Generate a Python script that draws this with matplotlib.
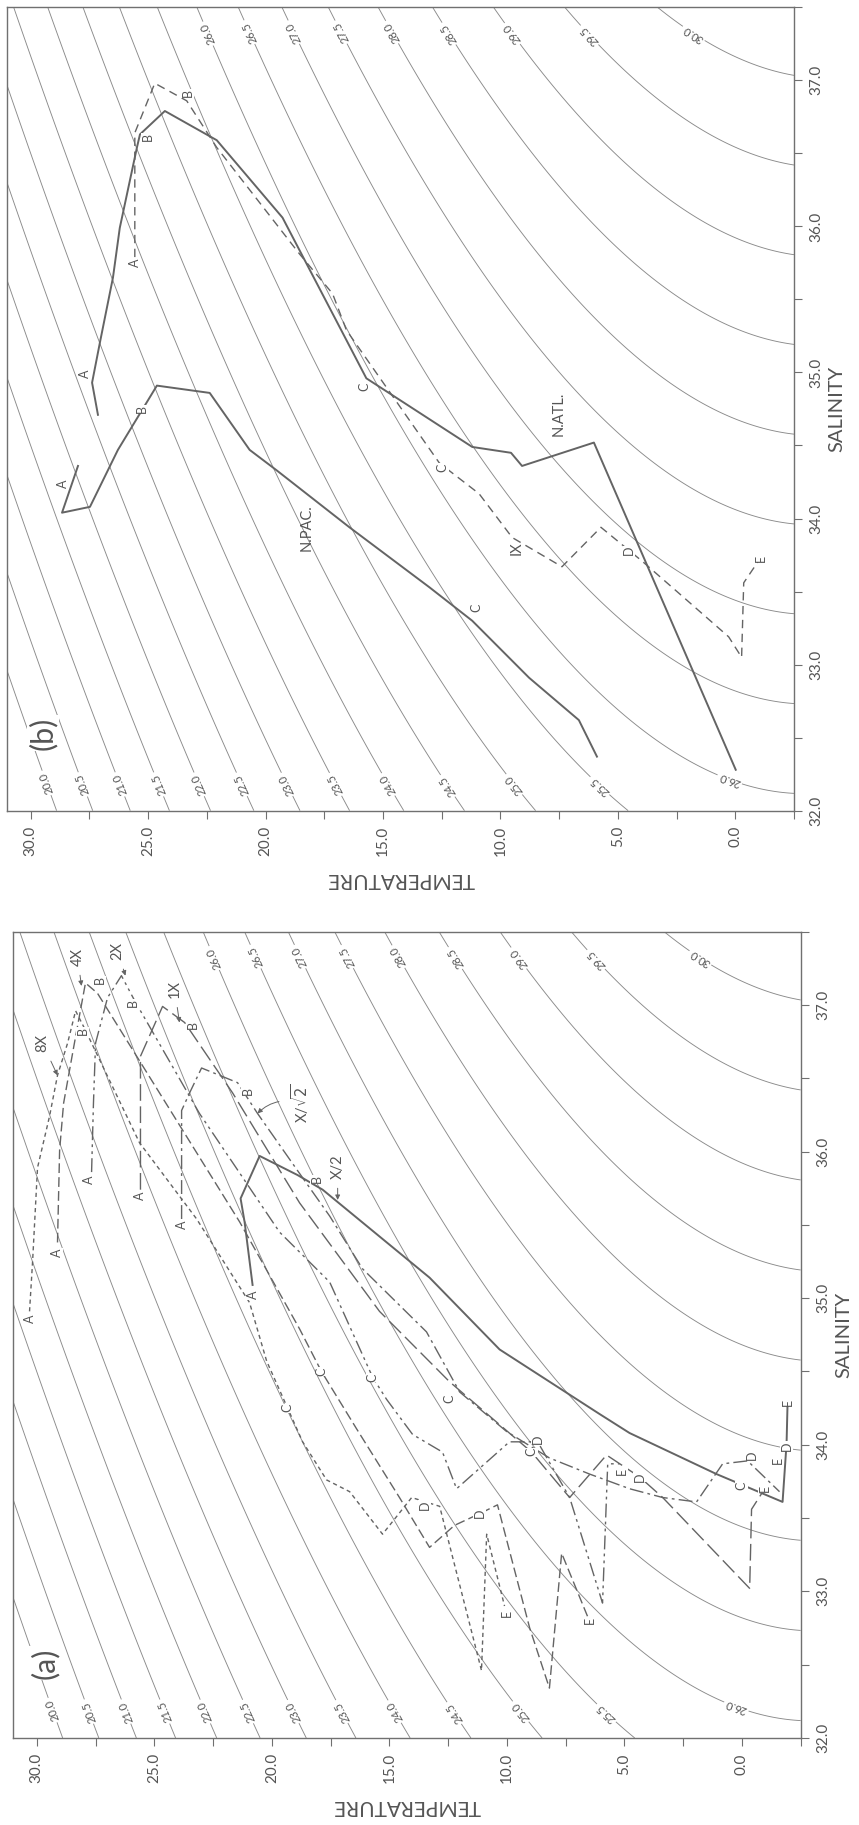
"""Diagramas T-S (a) curvas modelo y (b) N.PAC / N.ATL, figura rotada 90 grados."""
import numpy as np
import matplotlib
matplotlib.use("Agg")
import matplotlib.pyplot as plt
from matplotlib.ticker import MultipleLocator, FormatStrFormatter

plt.rcParams["font.family"] = ["Lato", "DejaVu Sans"]

GRIS = "#646464"
GRIS_CONT = "#8a8a8a"
TXT = "#555555"

# ============================================================
# Datos panel (a): curvas modelo (temperatura, salinidad)
# ============================================================
T_8X = [30.31, 30.18, 29.97, 29.46, 29.12, 28.69, 28.35, 27.97, 25.63, 23.20, 20.95,
        20.22, 19.33, 18.69, 17.67, 16.69, 15.29, 14.05, 12.86, 11.08, 10.86, 10.10]
S_8X = [34.91, 35.25, 35.89, 36.24, 36.52, 36.74, 36.96, 36.84, 36.06, 35.54, 34.97,
        34.57, 34.25, 34.02, 33.76, 33.68, 33.39, 33.64, 33.58, 32.46, 33.39, 32.90]

T_4X = [29.12, 29.03, 28.86, 28.40, 27.93, 27.42, 24.78, 21.37, 18.82, 17.89, 16.40,
        14.57, 13.29, 12.23, 11.16, 10.40, 9.03, 8.19, 7.67, 6.57]
S_4X = [35.38, 36.01, 36.33, 36.74, 37.15, 37.08, 36.40, 35.52, 34.79, 34.50, 34.11,
        33.64, 33.30, 33.45, 33.53, 33.59, 32.75, 32.34, 33.26, 32.83]

T_2X = [27.67, 27.59, 27.50, 26.99, 26.40, 25.84, 23.08, 19.67, 17.54, 15.71, 15.12,
        14.01, 12.74, 12.14, 9.89, 8.69, 7.33, 5.93, 5.71, 5.20]
S_2X = [35.86, 36.33, 36.74, 37.05, 37.20, 37.03, 36.26, 35.45, 35.11, 34.46, 34.31,
        34.07, 33.95, 33.70, 34.02, 34.02, 33.64, 32.92, 33.87, 33.87]

T_1X = [25.59, 25.59, 24.65, 23.71, 21.67, 18.82, 15.42, 12.44, 8.95, 7.33, 5.76,
        4.35, 3.37, -0.33, -0.41, -0.97]
S_1X = [35.74, 36.65, 36.99, 36.88, 36.40, 35.65, 34.91, 34.43, 33.95, 33.64, 33.93,
        33.78, 33.64, 33.02, 33.56, 33.70]

T_XR2 = [23.84, 23.84, 23.50, 22.99, 21.46, 20.61, 18.95, 17.54, 16.14, 13.42, 12.01,
         10.01, 8.19, 6.48, 4.78, 3.37, 1.93, 0.82, -0.24, -1.60]
S_XR2 = [35.54, 36.28, 36.40, 36.57, 36.47, 36.26, 35.88, 35.56, 35.20, 34.77, 34.36,
         34.09, 33.91, 33.80, 33.70, 33.64, 33.61, 33.87, 33.89, 33.68]

T_X2 = [20.82, 21.16, 21.33, 20.52, 18.91, 17.84, 13.29, 10.31, 6.06, 4.78, 1.08,
        -1.73, -1.90, -1.94]
S_X2 = [35.09, 35.52, 35.68, 35.97, 35.84, 35.74, 35.14, 34.65, 34.21, 34.08, 33.80,
        33.61, 34.01, 34.27]

# ============================================================
# Datos panel (b): N. Atlantico, N. Pacifico y curva 1X
# ============================================================
T_NATL = [27.14, 27.39, 27.05, 26.50, 26.21, 25.48, 25.35, 24.29, 22.08, 19.28, 15.71,
          11.20, 9.55, 9.08, 6.02, -0.02]
S_NATL = [34.71, 34.93, 35.21, 35.65, 35.99, 36.54, 36.63, 36.79, 36.59, 36.06, 34.96,
          34.49, 34.45, 34.36, 34.52, 32.28]

T_NPAC = [27.99, 28.67, 27.48, 26.29, 24.63, 22.38, 20.68, 19.53, 16.43, 13.03, 11.20,
          8.78, 6.66, 5.89]
S_NPAC = [34.36, 34.04, 34.08, 34.47, 34.91, 34.86, 34.47, 34.33, 33.94, 33.53, 33.30,
          32.91, 32.62, 32.37]

T_1XB = [25.57, 25.57, 24.72, 23.36, 22.08, 18.55, 17.15, 16.56, 12.60, 10.91, 9.50,
         7.38, 5.72, 3.98, 2.41, 0.28, -0.27, -0.36, -0.99]
S_1XB = [35.79, 36.64, 36.98, 36.86, 36.54, 35.81, 35.54, 35.29, 34.38, 34.17, 33.87,
         33.67, 33.94, 33.71, 33.49, 33.19, 33.05, 33.56, 33.71]

NIVELES = np.arange(20.0, 30.01, 0.5)
SIG_OFFSET = 0.13


def sigma_t(S, T):
    """sigma-t (Knudsen-Ekman)."""
    cl = (S - 0.030) / 1.805
    s0 = -0.069 + 1.4708 * cl - 0.001570 * cl**2 + 0.0000398 * cl**3
    st = -(T - 3.98) ** 2 / 503.570 * (T + 283.0) / (T + 67.26)
    at = T * (4.7867 - 0.098185 * T + 0.0010843 * T**2) * 1e-3
    bt = T * (18.030 - 0.8164 * T + 0.01667 * T**2) * 1e-6
    return st + (s0 + 0.1324) * (1 - at + bt * (s0 - 0.1324))


def sig(S, T):
    return sigma_t(S, T) + SIG_OFFSET


# etiquetas de isopicnas: (nivel, T aprox, S aprox, eje que se fija)
POS_ETQ = [
    (20.0, 29.39, 32.19, "S"), (20.5, 27.99, 32.18, "S"), (21.0, 26.33, 32.18, "S"),
    (21.5, 24.80, 32.18, "S"), (22.0, 23.10, 32.18, "S"), (22.5, 21.32, 32.18, "S"),
    (23.0, 19.41, 32.18, "S"), (23.5, 17.36, 32.18, "S"), (24.0, 15.16, 32.18, "S"),
    (24.5, 12.48, 32.17, "S"), (25.0, 9.84, 32.18, "S"), (25.5, 6.23, 32.17, "S"),
    (26.0, 0.24, 32.14, "T"), (26.0, 22.59, 37.32, "S"), (26.5, 20.81, 37.33, "S"),
    (27.0, 18.98, 37.33, "S"), (27.5, 16.98, 37.33, "S"), (28.0, 14.81, 37.33, "S"),
    (28.5, 12.31, 37.32, "S"), (29.0, 9.84, 37.32, "S"), (29.5, 6.78, 37.31, "S"),
    (30.0, 2.28, 37.32, "S"),
]


def punto_en_isopicna(lev, t0, s0, fijo):
    """Punto exacto sobre la isopicna, fijando S (o T)."""
    if fijo == "S":
        tt = np.linspace(-2.0, 31.0, 3000)
        vals = sig(s0, tt)[::-1]
        return float(np.interp(lev, vals, tt[::-1])), s0
    ss = np.linspace(31.5, 38.0, 3000)
    return t0, float(np.interp(lev, sig(ss, t0), ss))


def base_ts(ax, letra, pos_letra):
    ax.set_xlim(31.0, -2.5)
    ax.set_ylim(32.0, 37.5)
    tt = np.linspace(-2.5, 31.0, 400)
    ss = np.linspace(32.0, 37.5, 400)
    TT, SS = np.meshgrid(tt, ss)
    cs = ax.contour(TT, SS, sig(SS, TT), levels=NIVELES, colors=GRIS_CONT,
                    linewidths=0.65)
    manual = [punto_en_isopicna(*p) for p in POS_ETQ]
    ax.clabel(cs, manual=manual, inline=True, fmt="%.1f", fontsize=8,
              inline_spacing=2, colors=TXT)
    for t in cs.labelTexts:
        r = t.get_rotation()
        if r >= 180:
            t.set_rotation(r - 180)

    for sp in ax.spines.values():
        sp.set_color("#707070")
        sp.set_linewidth(1.0)

    ax.xaxis.set_major_locator(MultipleLocator(5))
    ax.xaxis.set_minor_locator(MultipleLocator(2.5))
    ax.xaxis.set_major_formatter(FormatStrFormatter("%.1f"))
    ax.yaxis.tick_right()
    ax.yaxis.set_label_position("right")
    ax.yaxis.set_major_locator(MultipleLocator(1))
    ax.yaxis.set_minor_locator(MultipleLocator(0.5))
    ax.yaxis.set_major_formatter(FormatStrFormatter("%.1f"))
    ax.tick_params(which="both", direction="out", length=6, width=0.8,
                   color="#707070", labelcolor=TXT, labelsize=11, pad=5)
    ax.tick_params(axis="x", labelrotation=90)
    ax.tick_params(axis="y", labelrotation=90)
    for lab in ax.get_yticklabels():
        lab.set_verticalalignment("center")

    ax.set_xlabel("TEMPERATURE", rotation=180, fontsize=15, color=TXT, labelpad=9)
    ax.set_ylabel("SALINITY", rotation=90, fontsize=14.5, color=TXT, labelpad=4)

    ax.text(pos_letra[0], pos_letra[1], letra, rotation=90, ha="center", va="center",
            fontsize=22, color=TXT, zorder=5,
            bbox=dict(fc="white", ec="none", pad=1))


def etiquetas(ax, lista):
    for txt, t0, s0 in lista:
        ax.text(t0, s0, txt, rotation=90, ha="center", va="center", fontsize=9,
                color=TXT, zorder=6, bbox=dict(fc="white", ec="none", pad=0.3))


fig = plt.figure(figsize=(8.59, 18.25), dpi=100)
ax_b = fig.add_axes([0.0085, 0.5558, 0.9158, 0.4402])
ax_a = fig.add_axes([0.0155, 0.0477, 0.9166, 0.4418])

# ============================================================
# Panel (a)
# ============================================================
base_ts(ax_a, "(a)", (29.67, 32.51))
kw = dict(color=GRIS, lw=1.0, zorder=4)
ax_a.plot(T_8X, S_8X, ls=(0, (3, 2.5)), **kw)
ax_a.plot(T_4X, S_4X, ls=(0, (7, 3)), **kw)
ax_a.plot(T_2X, S_2X, ls=(0, (10, 3, 2, 3, 2, 3)), **kw)
ax_a.plot(T_1X, S_1X, ls=(0, (12, 4)), **kw)
ax_a.plot(T_XR2, S_XR2, ls=(0, (10, 3, 2, 3)), **kw)
ax_a.plot(T_X2, S_X2, ls="-", color=GRIS, lw=1.4, zorder=4)

etiquetas(ax_a, [
    ("A", 30.31, 34.86), ("B", 28.05, 36.82), ("C", 19.33, 34.25), ("D", 13.50, 33.59), ("E", 10.01, 32.85),
    ("A", 29.16, 35.31), ("B", 27.33, 37.17), ("C", 17.89, 34.50), ("D", 11.16, 33.53), ("E", 6.48, 32.80),
    ("A", 27.76, 35.81), ("B", 25.93, 37.01), ("C", 15.71, 34.46), ("D", 8.69, 34.04), ("E", 5.12, 33.82),
    ("A", 25.63, 35.70), ("B", 23.37, 36.86), ("C", 8.95, 33.95), ("D", 4.35, 33.78), ("E", -0.97, 33.70),
    ("A", 23.84, 35.50), ("B", 21.03, 36.41), ("C", 12.44, 34.31), ("D", -0.41, 33.93), ("E", -1.52, 33.89),
    ("A", 20.82, 35.02), ("B", 18.10, 35.81), ("C", 0.01, 33.72), ("D", -1.90, 33.99), ("E", -1.94, 34.29),
])

flecha = dict(arrowstyle="-|>", color=GRIS, lw=0.7, mutation_scale=7, shrinkA=5, shrinkB=0)
for txt, xy, xyt, rad in [
    ("8X", (29.12, 36.52), (29.76, 36.74), 0.0),
    ("4X", (28.10, 37.13), (28.27, 37.33), 0.0),
    ("2X", (26.23, 37.20), (26.57, 37.37), 0.0),
    ("1X", (23.93, 36.88), (24.14, 37.11), 0.0),
    (r"X/$\sqrt{2}$", (20.61, 36.26), (18.82, 36.33), 0.3),
    ("X/2", (17.20, 35.67), (17.20, 35.90), 0.0),
]:
    ap = dict(flecha, connectionstyle=f"arc3,rad={rad}")
    ax_a.annotate(txt, xy=xy, xytext=xyt, rotation=90, ha="center", va="center",
                  fontsize=10.5, color=TXT, arrowprops=ap, zorder=6)

# ============================================================
# Panel (b)
# ============================================================
base_ts(ax_b, "(b)", (29.48, 32.53))
ax_b.plot(T_NATL, S_NATL, ls="-", color=GRIS, lw=1.4, zorder=4)
ax_b.plot(T_NPAC, S_NPAC, ls="-", color=GRIS, lw=1.4, zorder=4)
ax_b.plot(T_1XB, S_1XB, ls=(0, (6, 4)), color=GRIS, lw=1.0, zorder=4)

etiquetas(ax_b, [
    ("A", 27.69, 34.99), ("B", 25.02, 36.61), ("C", 15.79, 34.90),
    ("A", 28.63, 34.24), ("B", 25.27, 34.75), ("C", 11.03, 33.39),
    ("A", 25.57, 35.75), ("B", 23.32, 36.91), ("C", 12.48, 34.35),
    ("D", 4.53, 33.78), ("E", -1.08, 33.73),
])
for txt, t0, s0 in [("N.PAC.", 18.25, 33.94), ("N.ATL.", 7.51, 34.72), ("IX", 9.33, 33.80)]:
    ax_b.text(t0, s0, txt, rotation=90, ha="center", va="center", fontsize=10.5,
              color=TXT, zorder=6)

fig.savefig("out.png", dpi=100)
